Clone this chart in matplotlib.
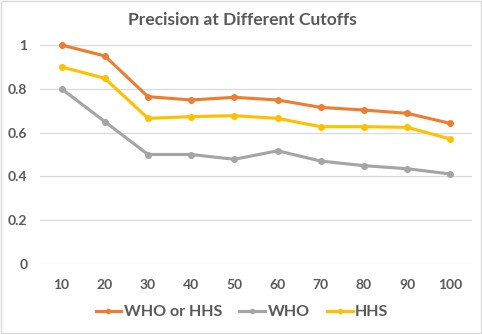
import matplotlib
matplotlib.use("Agg")
import matplotlib.pyplot as plt
from matplotlib.lines import Line2D

cutoffs = ["10", "20", "30", "40", "50", "60", "70", "80", "90", "100"]
who_or_hhs = [1.0, 0.95, 0.764, 0.749, 0.761, 0.749, 0.715, 0.703, 0.688, 0.642]
who = [0.80, 0.65, 0.50, 0.50, 0.478, 0.517, 0.47, 0.449, 0.435, 0.411]
hhs = [0.90, 0.848, 0.665, 0.673, 0.677, 0.665, 0.627, 0.627, 0.624, 0.571]
yticks = [0, 0.2, 0.4, 0.6, 0.8, 1]
ytick_labels = ["0", "0.2", "0.4", "0.6", "0.8", "1"]

series = [("WHO or HHS", who_or_hhs, "#ED7D31"),
          ("WHO", who, "#A5A5A5"),
          ("HHS", hhs, "#FFC000")]

plt.rcParams['font.family'] = ['Lato', 'DejaVu Sans']
txt = "#595959"

fig = plt.figure(figsize=(4.82, 3.34), dpi=100)
fig.patch.set_facecolor("white")
ax = fig.add_axes([40/482, 1-264/334, 432/482, 219/334])

x = list(range(1, len(cutoffs)+1))
for name, vals, col in series:
    ax.plot(x, vals, color=col, lw=2.25, marker="o", ms=4, label=name,
            clip_on=False, zorder=3, solid_joinstyle="round")

ax.set_xlim(0.5, len(cutoffs)+0.5)
ax.set_ylim(0, 1)
ax.set_yticks(yticks)
ax.set_yticklabels(ytick_labels)
ax.set_xticks(x)
ax.set_xticklabels(cutoffs)
ax.grid(axis="y", color="#D9D9D9", lw=0.9)
ax.set_axisbelow(True)
for s in ax.spines.values():
    s.set_visible(False)
ax.tick_params(length=0, colors=txt, labelsize=10)
ax.tick_params(axis="x", pad=11)
ax.tick_params(axis="y", pad=9)
for lab in ax.get_xticklabels() + ax.get_yticklabels():
    lab.set_fontweight("bold")
    lab.set_color(txt)

fig.text(242/482, 1-20/334, "Precision at Different Cutoffs", ha="center", va="center",
         fontsize=12.5, fontweight="bold", color=txt)

handles = [Line2D([0], [0], color=c, lw=2.25, marker="o", ms=3) for _, _, c in series]
leg = fig.legend(handles, [n for n, _, _ in series], loc="center",
                 bbox_to_anchor=(242/482, 1-312/334), ncol=3, frameon=False,
                 prop={"size": 11.5, "weight": "bold"}, handlelength=1.6,
                 handletextpad=0.15, columnspacing=1.1)
for t in leg.get_texts():
    t.set_color(txt)

border = plt.Rectangle((0.002, 0.002), 0.996, 0.996, transform=fig.transFigure,
                       fill=False, edgecolor="#D9D9D9", lw=1)
fig.patches.append(border)

fig.savefig("out.png", dpi=100)
